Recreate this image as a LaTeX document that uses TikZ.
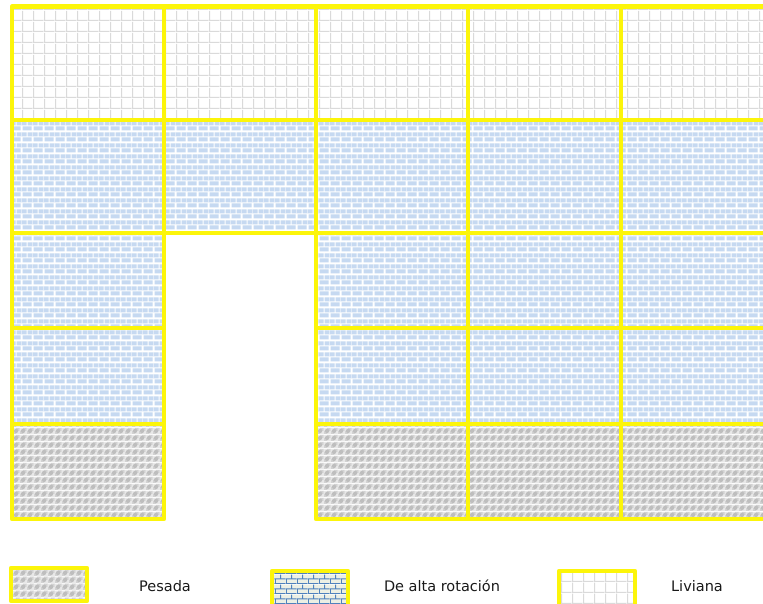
\documentclass[tikz,border=0pt]{standalone}
\usepackage{fontspec}
\setmainfont{DejaVu Sans}
\usetikzlibrary{patterns}

\definecolor{ybord}{RGB}{252,245,10}
\definecolor{brickblue}{RGB}{198,217,241}
\definecolor{gridgray}{RGB}{218,218,218}
\definecolor{pesbg}{RGB}{232,232,232}
\definecolor{pessq}{RGB}{210,210,210}
\definecolor{pesball}{RGB}{190,190,190}
\definecolor{legbg}{RGB}{236,239,228}
\definecolor{legline}{RGB}{79,129,189}
\definecolor{txt}{RGB}{25,25,25}

\pgfdeclarepatterninherentlycolored{liviana}{\pgfpointorigin}{\pgfqpoint{11pt}{11pt}}{\pgfqpoint{11pt}{11pt}}{
  \pgfsetfillcolor{white}
  \pgfpathrectangle{\pgfpointorigin}{\pgfqpoint{11pt}{11pt}}\pgfusepath{fill}
  \pgfsetstrokecolor{gridgray}\pgfsetlinewidth{1.1pt}
  \pgfpathmoveto{\pgfqpoint{0.55pt}{0pt}}\pgfpathlineto{\pgfqpoint{0.55pt}{11pt}}
  \pgfpathmoveto{\pgfqpoint{0pt}{0.55pt}}\pgfpathlineto{\pgfqpoint{11pt}{0.55pt}}
  \pgfusepath{stroke}
}

\pgfdeclarepatterninherentlycolored{alta}{\pgfpointorigin}{\pgfqpoint{11pt}{11pt}}{\pgfqpoint{11pt}{11pt}}{
  \pgfsetfillcolor{white}
  \pgfpathrectangle{\pgfpointorigin}{\pgfqpoint{11pt}{11pt}}\pgfusepath{fill}
  \pgfsetfillcolor{brickblue}
  \pgfpathrectangle{\pgfqpoint{0.6pt}{0.6pt}}{\pgfqpoint{9.8pt}{4.3pt}}
  \pgfpathrectangle{\pgfqpoint{0pt}{6.1pt}}{\pgfqpoint{4.9pt}{4.3pt}}
  \pgfpathrectangle{\pgfqpoint{6.1pt}{6.1pt}}{\pgfqpoint{4.9pt}{4.3pt}}
  \pgfusepath{fill}
}

\pgfdeclarepatterninherentlycolored{pesada}{\pgfpointorigin}{\pgfqpoint{6.6pt}{6.6pt}}{\pgfqpoint{6.6pt}{6.6pt}}{
  \pgfsetfillcolor{pesbg}
  \pgfpathrectangle{\pgfpointorigin}{\pgfqpoint{6.6pt}{6.6pt}}\pgfusepath{fill}
  \pgfsetfillcolor{pessq}
  \pgfpathrectangle{\pgfpointorigin}{\pgfqpoint{3.3pt}{3.3pt}}
  \pgfpathrectangle{\pgfqpoint{3.3pt}{3.3pt}}{\pgfqpoint{3.3pt}{3.3pt}}
  \pgfusepath{fill}
  \pgfsetfillcolor{pesball}
  \pgfpathcircle{\pgfqpoint{3.3pt}{3.3pt}}{2.3pt}\pgfusepath{fill}
}

\pgfdeclarepatterninherentlycolored{altaleg}{\pgfpointorigin}{\pgfqpoint{11pt}{10pt}}{\pgfqpoint{11pt}{10pt}}{
  \pgfsetfillcolor{legbg}
  \pgfpathrectangle{\pgfpointorigin}{\pgfqpoint{11pt}{10pt}}\pgfusepath{fill}
  \pgfsetstrokecolor{legline}\pgfsetlinewidth{1.1pt}
  \pgfpathmoveto{\pgfqpoint{0pt}{0.5pt}}\pgfpathlineto{\pgfqpoint{11pt}{0.5pt}}
  \pgfpathmoveto{\pgfqpoint{0pt}{5.5pt}}\pgfpathlineto{\pgfqpoint{11pt}{5.5pt}}
  \pgfpathmoveto{\pgfqpoint{0.5pt}{0pt}}\pgfpathlineto{\pgfqpoint{0.5pt}{5.5pt}}
  \pgfpathmoveto{\pgfqpoint{6pt}{5.5pt}}\pgfpathlineto{\pgfqpoint{6pt}{10pt}}
  \pgfusepath{stroke}
}

\tikzset{
  yborder/.style={draw=ybord, line width=4.5pt, line join=round},
  legtext/.style={font=\fontsize{14.5}{17}\selectfont, text=txt, inner sep=0pt}
}

\begin{document}
\begin{tikzpicture}[x=1pt, y=-1pt]
\useasboundingbox (0,0) rectangle (763,604);

% fills
\foreach \xa/\xb/\n in {12/164/5, 164/316/2, 316/468/5, 468/621/5, 621/790/5} {
  \foreach \ya/\yb/\pat [count=\r] in {6.5/120/liviana, 120/233/alta, 233/328/alta, 328/424/alta, 424/519/pesada} {
    \ifnum\r>\n\relax\else
      \fill[pattern=\pat] (\xa,\ya) rectangle (\xb,\yb);
    \fi
  }
}
% borders
\foreach \xa/\xb/\n in {12/164/5, 164/316/2, 316/468/5, 468/621/5, 621/790/5} {
  \foreach \ya/\yb [count=\r] in {6.5/120, 120/233, 233/328, 328/424, 424/519} {
    \ifnum\r>\n\relax\else
      \draw[yborder] (\xa,\ya) rectangle (\xb,\yb);
    \fi
  }
}

% legend
\draw[yborder, pattern=pesada] (11,568) rectangle (87,601);
\node[legtext] (lpes) at (165,586) {Pesada};
\draw[yborder, pattern=altaleg] (272,571) rectangle (348,612);
\node[legtext] (lalta) at (442,586) {De alta rotación};
\draw[yborder, pattern=liviana] (559,571) rectangle (635,612);
\node[legtext] (lliv) at (697,586) {Liviana};
\end{tikzpicture}
\end{document}
